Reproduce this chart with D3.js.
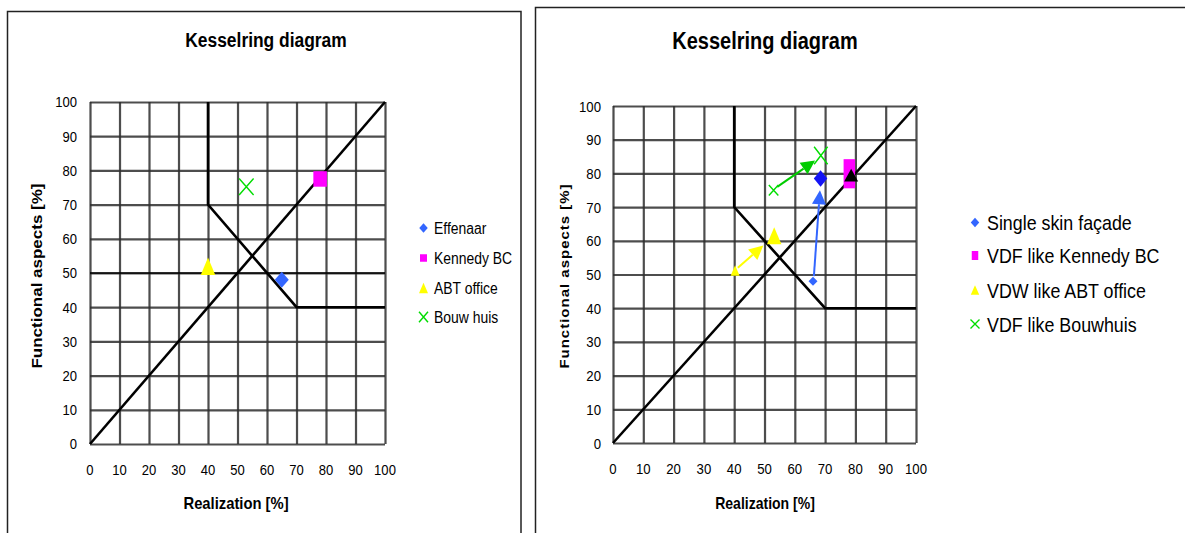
<!DOCTYPE html>
<html>
  <head>
    <meta charset="utf-8" />
    <title>Kesselring diagram</title>
    <script src="https://d3js.org/d3.v7.min.js"></script>
    <style>
      body {
        margin: 0;
        background: #fff;
      }
      text {
        font-family: "Liberation Sans", Arial, sans-serif;
        fill: #000;
      }
    </style>
  </head>
  <body>
    <svg id="chart"></svg>

    <script>
      // ---- data ----
      var tickValues = [0, 10, 20, 30, 40, 50, 60, 70, 80, 90, 100];
      var diagonalX = [0, 100];
      var diagonalY = [0, 100];
      var boundaryX = [40, 40, 70, 100];
      var boundaryY = [100, 70, 40, 40];
      var leftThreshold = 50;

      // left chart: one point per building
      var leftNames = ["Effenaar", "Kennedy BC", "ABT office", "Bouw huis"];
      var leftX = [65, 78, 40, 53];
      var leftY = [48, 77.5, 52, 75.2];

      // right chart: starting point, improved point, arrow between them
      var rightNames = ["Single skin façade", "VDF like Kennedy BC", "VDW like ABT office", "VDF like Bouwhuis"];
      var beforeX = [66, 78, 40.3, 53];
      var beforeY = [48, 77.8, 51.2, 75];
      var afterX = [68.5, 78, 53.2, 68.6];
      var afterY = [78.5, 82, 61.5, 85.3];
      var arrowFromX = [66.3, 78.6, 41.2, 54.2];
      var arrowFromY = [49.5, 77.6, 52, 76];
      var arrowToX = [68.3, 78.6, 49.6, 66.7];
      var arrowToY = [75, 81.4, 58.6, 83.8];

      var shapes = ["diamond", "square", "triangle", "cross"];
      var colors = ["#3366ff", "#ff00ff", "#ffff00", "#00dd00"];
      var afterColors = ["#1414f5", "#ff00ff", "#ffff00", "#00dd00"];
      var arrowColors = ["#3366ff", "#000000", "#ffff00", "#00cc00"];

      var svg = d3.select("#chart")
        .attr("width", 1185)
        .attr("height", 533);

      svg.append("rect").attr("width", 1185).attr("height", 533).attr("fill", "#fff");

      var defs = svg.append("defs");
      defs.append("filter").attr("id", "soft")
        .append("feGaussianBlur").attr("stdDeviation", 0.45);

      function markerPath(shape, w, h) {
        if (shape === "diamond") {
          return "M0," + (-h / 2) + "L" + (w / 2) + ",0L0," + (h / 2) + "L" + (-w / 2) + ",0Z";
        }
        if (shape === "square") {
          return "M" + (-w / 2) + "," + (-h / 2) + "h" + w + "v" + h + "h" + (-w) + "Z";
        }
        if (shape === "triangle") {
          return "M0," + (-h / 2) + "L" + (w / 2) + "," + (h / 2) + "L" + (-w / 2) + "," + (h / 2) + "Z";
        }
        return "M" + (-w / 2) + "," + (-h / 2) + "L" + (w / 2) + "," + (h / 2) +
          "M" + (w / 2) + "," + (-h / 2) + "L" + (-w / 2) + "," + (h / 2);
      }

      function drawMarker(g, shape, color, x, y, w, h) {
        var p = g.append("path")
          .attr("d", markerPath(shape, w, h))
          .attr("transform", "translate(" + x + "," + y + ")");
        if (shape === "cross") {
          p.attr("fill", "none").attr("stroke", color).attr("stroke-width", 1.4);
        } else {
          p.attr("fill", color);
        }
      }

      function addText(g, x, y, s, size, sx, opts) {
        opts = opts || {};
        var rot = opts.rotate ? " rotate(-90) scale(1," + sx + ")" : " scale(" + sx + ",1)";
        return g.append("text")
          .attr("transform", "translate(" + x + "," + y + ")" + rot)
          .attr("font-size", size + "px")
          .attr("font-weight", opts.bold ? "bold" : "normal")
          .attr("text-anchor", opts.anchor || "start")
          .attr("letter-spacing", opts.spacing || 0)
          .text(s);
      }

      function drawFrame(cfg) {
        var g = svg.append("g");
        var x = d3.scaleLinear().domain([0, 100]).range([cfg.left, cfg.right]);
        var y = d3.scaleLinear().domain([0, 100]).range([cfg.bottom, cfg.top]);

        // frame
        g.append("rect")
          .attr("x", cfg.frame[0]).attr("y", cfg.frame[1])
          .attr("width", cfg.frame[2]).attr("height", cfg.frame[3])
          .attr("fill", "none").attr("stroke", "#222").attr("stroke-width", 1.5);

        // grid from axes
        var grid = g.append("g").attr("filter", "url(#soft)");
        var yAxis = d3.axisLeft(y).tickValues(tickValues)
          .tickSize(-(cfg.right - cfg.left)).tickFormat("");
        var xAxis = d3.axisBottom(x).tickValues(tickValues)
          .tickSize(-(cfg.bottom - cfg.top)).tickFormat("");
        grid.append("g").attr("transform", "translate(" + cfg.left + ",0)").call(yAxis);
        grid.append("g").attr("transform", "translate(0," + cfg.bottom + ")").call(xAxis);
        grid.selectAll(".domain").remove();
        grid.selectAll(".tick line")
          .attr("stroke", "#2e2e2e").attr("stroke-width", 2.2).attr("opacity", 0.85);

        // tick labels
        tickValues.forEach(function(v) {
          addText(g, cfg.left - cfg.yLabelGap, y(v), v, cfg.tickSize, cfg.sx, { anchor: "end" })
            .attr("dy", "0.36em");
          addText(g, x(v), cfg.bottom + 31, v, cfg.tickSize, cfg.sx, { anchor: "middle" });
        });

        // lines
        var line = d3.line()
          .x(function(d) { return x(d[0]); })
          .y(function(d) { return y(d[1]); });
        var lines = g.append("g").attr("filter", "url(#soft)");
        lines.append("path")
          .attr("d", line(d3.zip(diagonalX, diagonalY)))
          .attr("fill", "none").attr("stroke", "#000").attr("stroke-width", 2.6);
        lines.append("path")
          .attr("d", line(d3.zip(boundaryX, boundaryY)))
          .attr("fill", "none").attr("stroke", "#000").attr("stroke-width", 2.6);

        // titles
        addText(g, cfg.titleX, cfg.titleY, "Kesselring diagram", cfg.titleSize, cfg.sx,
          { bold: true, anchor: "middle" });
        addText(g, cfg.xTitleX, 509, "Realization [%]", cfg.axisTitleSize, cfg.sx,
          { bold: true, anchor: "middle" });
        addText(g, cfg.yTitleX, 276, "Functional aspects [%]", cfg.yTitleSize, cfg.sx,
          { bold: true, anchor: "middle", rotate: true, spacing: cfg.yTitleSpacing });

        return { g: g, x: x, y: y };
      }

      // ---- left chart ----
      var L = drawFrame({
        left: 90, right: 385, top: 102, bottom: 444,
        frame: [7.5, 11.5, 513.5, 620],
        sx: 0.87, tickSize: 15, yLabelGap: 13,
        titleX: 266, titleY: 47, titleSize: 20,
        xTitleX: 236, axisTitleSize: 17,
        yTitleX: 42, yTitleSize: 17, yTitleSpacing: 0
      });

      L.g.append("line")
        .attr("x1", L.x(0)).attr("x2", L.x(100))
        .attr("y1", L.y(leftThreshold)).attr("y2", L.y(leftThreshold))
        .attr("stroke", "#000").attr("stroke-width", 1.4);

      var leftSizes = [[14, 16], [13.5, 15.5], [14.5, 17.5], [14.5, 16.5]];
      leftNames.forEach(function(name, i) {
        drawMarker(L.g, shapes[i], colors[i], L.x(leftX[i]), L.y(leftY[i]), leftSizes[i][0], leftSizes[i][1]);
      });

      var leftLegendY = [228, 258, 288, 317];
      var leftLegendSizes = [[8.5, 9.5], [7, 7.5], [9, 10.5], [9, 10.5]];
      leftNames.forEach(function(name, i) {
        drawMarker(L.g, shapes[i], colors[i], 423.5, leftLegendY[i], leftLegendSizes[i][0], leftLegendSizes[i][1]);
        addText(L.g, 434, leftLegendY[i], name, 16, 0.87).attr("dy", "0.36em");
      });

      // ---- right chart ----
      var R = drawFrame({
        left: 613, right: 916, top: 106, bottom: 443,
        frame: [535.5, 7.5, 700, 620],
        sx: 0.85, tickSize: 15.5, yLabelGap: 12,
        titleX: 765, titleY: 48.5, titleSize: 23.5,
        xTitleX: 765, axisTitleSize: 16.5,
        yTitleX: 569, yTitleSize: 15, yTitleSpacing: 1
      });

      var beforeSizes = [[9, 9], [11.5, 15], [9, 10.5], [9.5, 10.5]];
      var afterSizes = [[13.5, 16.5], [11.5, 15], [14.5, 17], [13.5, 17.5]];

      // Kennedy squares sit under the black arrow head
      drawMarker(R.g, shapes[1], colors[1], R.x(beforeX[1]), R.y(beforeY[1]), beforeSizes[1][0], beforeSizes[1][1]);
      drawMarker(R.g, shapes[1], afterColors[1], R.x(afterX[1]), R.y(afterY[1]), afterSizes[1][0], afterSizes[1][1]);

      // arrows
      rightNames.forEach(function(name, i) {
        var x0 = R.x(arrowFromX[i]), y0 = R.y(arrowFromY[i]);
        var x1 = R.x(arrowToX[i]), y1 = R.y(arrowToY[i]);
        var dx = x1 - x0, dy = y1 - y0;
        var len = Math.sqrt(dx * dx + dy * dy);
        var ux = dx / len, uy = dy / len;
        var head = Math.min(14, len), half = 7;
        var bx = x1 - ux * head, by = y1 - uy * head;
        if (len > head) {
          R.g.append("line")
            .attr("x1", x0).attr("y1", y0).attr("x2", bx).attr("y2", by)
            .attr("stroke", arrowColors[i]).attr("stroke-width", 2);
        }
        R.g.append("path")
          .attr("d", "M" + x1 + "," + y1 +
            "L" + (bx - uy * half) + "," + (by + ux * half) +
            "L" + (bx + uy * half) + "," + (by - ux * half) + "Z")
          .attr("fill", arrowColors[i]);
      });

      rightNames.forEach(function(name, i) {
        if (i === 1) return;
        drawMarker(R.g, shapes[i], colors[i], R.x(beforeX[i]), R.y(beforeY[i]), beforeSizes[i][0], beforeSizes[i][1]);
        drawMarker(R.g, shapes[i], afterColors[i], R.x(afterX[i]), R.y(afterY[i]), afterSizes[i][0], afterSizes[i][1]);
      });

      var rightLegendY = [222.5, 255.5, 290, 324];
      var rightLegendSizes = [[8.5, 9.5], [6.5, 9], [8.5, 9.5], [9, 9]];
      rightNames.forEach(function(name, i) {
        drawMarker(R.g, shapes[i], colors[i], 975, rightLegendY[i], rightLegendSizes[i][0], rightLegendSizes[i][1]);
        addText(R.g, 987, rightLegendY[i], name, 21, 0.85).attr("dy", "0.36em");
      });
    </script>
  </body>
</html>
